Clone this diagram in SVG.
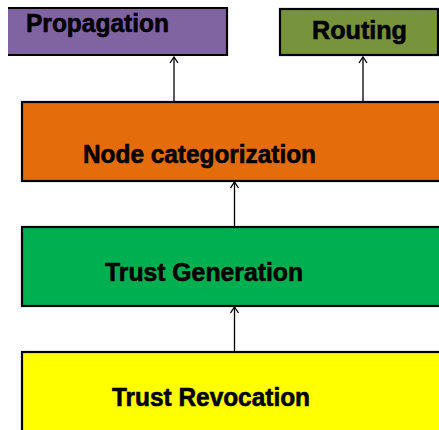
<svg xmlns="http://www.w3.org/2000/svg" width="439" height="430" viewBox="0 0 439 430">
<style>
.box{stroke:#000;stroke-width:2.2}
.lbl{font-family:"Liberation Sans",Arial,sans-serif;font-weight:bold;font-size:25px;fill:#000;stroke:#000;stroke-width:0.6}
.con{stroke:#000;stroke-width:1.3;fill:none}
</style>
<defs>
<marker id="ah" viewBox="0 0 10 10" refX="9" refY="5" markerWidth="10" markerHeight="10" markerUnits="userSpaceOnUse" orient="auto">
<path d="M3,1 L9,5 L3,9" fill="none" stroke="#000" stroke-width="1.3"/>
</marker>
</defs>
<rect width="439" height="430" fill="#fff"/>
<g id="propagation">
<path class="box" d="M8,8 H227 V55 H8" fill="#8064A2"/>
<text class="lbl" x="26" y="32" textLength="143" lengthAdjust="spacingAndGlyphs">Propagation</text>
</g>
<g id="routing">
<rect class="box" x="280" y="9" width="158" height="46" fill="#77933C"/>
<text class="lbl" x="312" y="39" textLength="95" lengthAdjust="spacingAndGlyphs">Routing</text>
</g>
<g id="node-categorization">
<rect class="box" x="22" y="102" width="430" height="79" fill="#E46C0A"/>
<text class="lbl" x="83" y="163" textLength="233" lengthAdjust="spacingAndGlyphs">Node categorization</text>
</g>
<g id="trust-generation">
<rect class="box" x="22" y="227" width="430" height="79" fill="#00B050"/>
<text class="lbl" x="105" y="281" textLength="198" lengthAdjust="spacingAndGlyphs">Trust Generation</text>
</g>
<g id="trust-revocation">
<rect class="box" x="22" y="352" width="430" height="100" fill="#FFFF00"/>
<text class="lbl" x="112" y="406" textLength="198" lengthAdjust="spacingAndGlyphs">Trust Revocation</text>
</g>
<g id="connectors">
<line class="con" x1="174" y1="101" x2="174" y2="57" marker-end="url(#ah)"/>
<line class="con" x1="363" y1="101" x2="363" y2="57" marker-end="url(#ah)"/>
<line class="con" x1="234.5" y1="226" x2="234.5" y2="182" marker-end="url(#ah)"/>
<line class="con" x1="234.5" y1="351" x2="234.5" y2="307" marker-end="url(#ah)"/>
</g>
</svg>
